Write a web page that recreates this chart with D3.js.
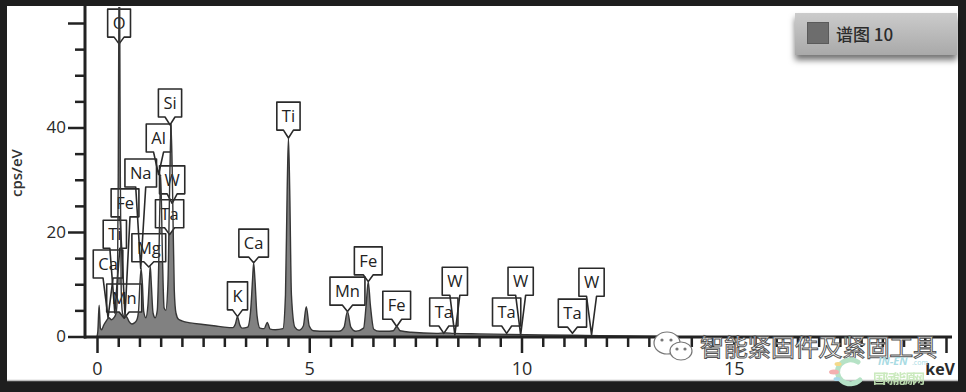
<!DOCTYPE html>
<html>
<head>
<meta charset="utf-8">
<script src="https://cdn.jsdelivr.net/npm/d3@7"></script>
<style>
  html, body { margin: 0; padding: 0; background: #1e1e1e; }
  svg { display: block; }
</style>
</head>
<body>
<div id="chart"></div>
<script>

// spectrum: energy (keV) and counts (cps/eV)
const energy = [0.00, 0.02, 0.05, 0.08, 0.11, 0.16, 0.22, 0.28, 0.34, 0.40, 0.45, 0.48, 0.50, 0.515, 0.525, 0.535, 0.55, 0.57, 0.60,
  0.64, 0.68, 0.71, 0.76, 0.82, 0.88, 0.94, 0.98, 1.01, 1.04, 1.07, 1.10, 1.15, 1.20, 1.235, 1.255, 1.28, 1.32, 1.37,
  1.42, 1.46, 1.50, 1.54, 1.58, 1.62, 1.67, 1.71, 1.745, 1.78, 1.82, 1.86, 1.92, 2.00, 2.20, 2.50, 2.80, 3.00, 3.20,
  3.26, 3.31, 3.36, 3.42, 3.55, 3.62, 3.665, 3.69, 3.72, 3.77, 3.84, 3.94, 4.01, 4.08, 4.20, 4.38, 4.44, 4.48, 4.51,
  4.54, 4.58, 4.66, 4.76, 4.86, 4.93, 5.00, 5.10, 5.40, 5.70, 5.82, 5.90, 5.98, 6.10, 6.28, 6.34, 6.39, 6.44, 6.52,
  6.65, 6.80, 6.98, 7.06, 7.14, 7.40, 8.00, 8.20, 8.40, 9.00, 9.70, 10.5, 11.5, 12.5, 13.3];
const counts = [0, 1.0, 6.0, 1.6, 1.3, 2.2, 3.0, 3.6, 3.2, 3.6, 4.5, 8, 30, 62, 75, 62, 30, 9, 4.5,
  3.8, 3.9, 3.6, 2.8, 2.4, 2.6, 3.2, 5, 10, 13, 10, 4.8, 3.6, 6, 11, 13.4, 10, 4.5, 3.6,
  5, 16, 31, 16, 5.5, 5.0, 10, 28, 40.5, 28, 9, 4.5, 3.3, 3.0, 2.6, 2.3, 2.0, 1.8, 1.7,
  2.4, 3.8, 2.3, 1.6, 1.8, 5, 11, 14.1, 11, 4, 1.6, 1.5, 2.7, 1.4, 1.3, 1.5, 8, 28, 38,
  28, 8, 1.8, 1.2, 2.0, 5.7, 2.0, 1.1, 1.0, 1.0, 1.8, 4.8, 1.8, 1.0, 1.6, 6, 10.5, 6, 1.4,
  1.0, 1.0, 1.1, 1.9, 1.1, 0.8, 0.6, 0.7, 0.6, 0.5, 0.4, 0.3, 0.2, 0.1, 0];

// peak labels: element, energy (keV), label level and pointer tip (cps/eV)
const lineNames    = ["O", "Si", "Al", "Na", "W", "Ta", "Fe", "Mg", "Ti", "Ca", "Mn", "K", "Ca", "Ti", "Mn", "Fe", "Fe", "Ta", "W", "Ta", "W", "Ta", "W"];
const lineEnergies = [0.52, 1.72, 1.45, 1.03, 1.77, 1.71, 0.66, 1.22, 0.42, 0.26, 0.64, 3.31, 3.69, 4.51, 5.90, 6.39, 7.06, 8.17, 8.43, 9.65, 9.98, 11.20, 11.65];
const lineLevels   = [57.3, 42.0, 35.3, 28.6, 27.3, 20.8, 22.9, 14.3, 16.9, 11.2, 4.7, 5.1, 15.2, 39.5, 6.0, 11.8, 3.3, 2.0, 7.9, 2.0, 7.9, 1.8, 7.7];
const lineTips     = [56, 40.5, 31, 13, 25.5, 19.5, 4, 13.3, 4.5, 3.6, 3.5, 3.8, 14.1, 38, 4.8, 10.5, 1.9, 0.6, 0.3, 0.6, 0.3, 0.6, 0.3];

const xTicks = d3.range(0, 20.01, 0.5);
const xLabels = [0, 5, 10, 15];
const yTicks = d3.range(0, 61, 5);
const yLabels = [0, 20, 40];
const legendName = "谱图 10";

const W = 966, H = 392;
const font = "'Open Sans', 'DejaVu Sans', sans-serif";
const cjk = "'Noto Sans CJK SC', sans-serif";

const svg = d3.select("#chart").append("svg")
  .attr("width", W).attr("height", H);

const defs = svg.append("defs");
defs.append("clipPath").attr("id", "plot")
  .append("rect").attr("x", 85).attr("y", 7).attr("width", 867).attr("height", 331);

const grad = defs.append("linearGradient").attr("id", "lg").attr("x1", 0).attr("x2", 0).attr("y1", 0).attr("y2", 1);
grad.append("stop").attr("offset", "0%").attr("stop-color", "#cbcbcb");
grad.append("stop").attr("offset", "100%").attr("stop-color", "#a9a9a9");
defs.append("filter").attr("id", "shadow").attr("x", "-10%").attr("y", "-20%").attr("width", "120%").attr("height", "160%")
  .append("feDropShadow").attr("dx", 0).attr("dy", 5).attr("stdDeviation", 3)
  .attr("flood-color", "#000").attr("flood-opacity", 0.55);

// frame
svg.append("rect").attr("width", W).attr("height", H).attr("fill", "#1e1e1e");
svg.append("rect").attr("x", 7).attr("y", 6).attr("width", 951).attr("height", 375).attr("fill", "#fff");
svg.append("line").attr("x1", 7).attr("x2", 958).attr("y1", 380.5).attr("y2", 380.5)
  .attr("stroke", "#bdbdbd").attr("stroke-width", 1.5);

const x = d3.scaleLinear().domain([0, 20]).range([97, 946]);
const y = d3.scaleLinear().domain([0, 60]).range([336.5, 23]);

const pts = energy.map((e, i) => [e, counts[i]]);
const plot = svg.append("g").attr("clip-path", "url(#plot)");

// spectrum fill
plot.append("path").datum(pts)
  .attr("fill", "#818181")
  .attr("d", d3.area().x(d => x(d[0])).y0(y(0)).y1(d => y(d[1])).curve(d3.curveMonotoneX));

// peak labels
const labels = lineNames.map((n, i) => ({name: n, e: lineEnergies[i], lvl: lineLevels[i], tip: lineTips[i]}));
const lab = plot.append("g");
const meas = svg.append("text").attr("font-family", font).attr("font-size", 16.5);
labels.forEach(d => {
  meas.text(d.name);
  d.w = meas.node().getComputedTextLength() + 10;
  const cx = x(d.e), b = y(d.lvl), t = b - 28, ty = Math.max(y(d.tip), b + 4);
  d.cx = cx; d.b = b;
  d.path = `M${cx - d.w / 2},${t}H${cx + d.w / 2}V${b}H${cx + 5}L${cx},${ty}L${cx - 5},${b}H${cx - d.w / 2}Z`;
});
meas.remove();

lab.selectAll("path.fill").data(labels).join("path")
  .attr("d", d => d.path).attr("fill", "#fff");
lab.selectAll("path.edge").data(labels).join("path")
  .attr("d", d => d.path).attr("fill", "none")
  .attr("stroke", "#2a2a2a").attr("stroke-width", 1.6).attr("stroke-linejoin", "round");
lab.selectAll("text").data(labels).join("text")
  .attr("x", d => d.cx).attr("y", d => d.b - 8)
  .attr("text-anchor", "middle")
  .attr("font-family", font).attr("font-size", 16.5).attr("fill", "#222")
  .text(d => d.name);

// spectrum outline
plot.append("path").datum(pts)
  .attr("fill", "none").attr("stroke", "#363636").attr("stroke-width", 1.4)
  .attr("d", d3.line().x(d => x(d[0])).y(d => y(d[1])).curve(d3.curveMonotoneX));

// axes
const gx = svg.append("g").attr("transform", "translate(0,337)")
  .call(d3.axisBottom(x).tickValues(xTicks).tickSizeOuter(0).tickSize(10)
    .tickFormat(d => xLabels.includes(d) ? d : ""));
gx.select(".domain").remove();
gx.selectAll(".tick line").attr("y2", d => d % 5 === 0 ? 16 : 10)
  .attr("stroke", "#222").attr("stroke-width", 2.5);
gx.selectAll(".tick text").attr("y", 38).attr("dy", 0)
  .attr("font-family", font).attr("font-size", 18).attr("fill", "#2a2a2a");

const gy = svg.append("g").attr("transform", "translate(85,0)")
  .call(d3.axisLeft(y).tickValues(yTicks).tickSizeOuter(0).tickSize(10)
    .tickFormat(d => yLabels.includes(d) ? d : ""));
gy.select(".domain").remove();
gy.selectAll(".tick line").attr("x2", d => d % 20 === 0 ? -17 : -10)
  .attr("stroke", "#222").attr("stroke-width", 2.5);
gy.selectAll(".tick text").attr("x", -19)
  .attr("font-family", font).attr("font-size", 17).attr("fill", "#2a2a2a");

svg.append("line").attr("x1", 85).attr("x2", 85).attr("y1", 6).attr("y2", 338.5)
  .attr("stroke", "#222").attr("stroke-width", 3);
svg.append("line").attr("x1", 84).attr("x2", 952).attr("y1", 337).attr("y2", 337)
  .attr("stroke", "#222").attr("stroke-width", 3);

svg.append("text").attr("transform", "translate(22,173) rotate(-90)")
  .attr("text-anchor", "middle").attr("font-family", font).attr("font-size", 15)
  .attr("font-weight", 600).attr("fill", "#333").text("cps/eV");
svg.append("text").attr("x", 955).attr("y", 375).attr("text-anchor", "end")
  .attr("font-family", font).attr("font-size", 16).attr("font-weight", 700)
  .attr("fill", "#2a2a2a").text("keV");

// legend
const lg = svg.append("g");
lg.append("rect").attr("x", 795).attr("y", 13).attr("width", 162).attr("height", 42)
  .attr("fill", "url(#lg)").attr("filter", "url(#shadow)");
lg.append("rect").attr("x", 807.5).attr("y", 22.5).attr("width", 21).attr("height", 21)
  .attr("fill", "#6d6d6d").attr("stroke", "#5a5a5a");
lg.append("text").attr("x", 836).attr("y", 41).attr("font-family", cjk).attr("font-size", 17)
  .attr("font-weight", 500).attr("fill", "#2b2b2b").text(legendName);

// watermark
const wm = svg.append("g");
wm.append("ellipse").attr("cx", 667).attr("cy", 343).attr("rx", 13).attr("ry", 11)
  .attr("fill", "#fff").attr("stroke", "#777").attr("stroke-width", 1.2);
wm.append("ellipse").attr("cx", 681).attr("cy", 351).attr("rx", 11).attr("ry", 9)
  .attr("fill", "#fff").attr("stroke", "#777").attr("stroke-width", 1.2);
[[662, 340], [671, 340], [677, 349], [685, 349]].forEach(p =>
  wm.append("circle").attr("cx", p[0]).attr("cy", p[1]).attr("r", 1.6).attr("fill", "#777"));
wm.append("text").attr("x", 700).attr("y", 356).attr("textLength", 237)
  .attr("font-family", cjk).attr("font-size", 24).attr("fill", "#fff")
  .attr("stroke", "#555").attr("stroke-width", 1).text("智能紧固件及紧固工具");

wm.append("path").attr("d", "M858,362 A13,12 0 1,0 860,380")
  .attr("fill", "none").attr("stroke", "#b6e2c6").attr("stroke-width", 5).attr("stroke-linecap", "round");
wm.append("ellipse").attr("cx", 834).attr("cy", 372).attr("rx", 5).attr("ry", 2.5).attr("fill", "#f3b0b0");
wm.append("ellipse").attr("cx", 838).attr("cy", 364).attr("rx", 3.5).attr("ry", 2).attr("fill", "#f4d98a");
wm.append("ellipse").attr("cx", 837).attr("cy", 379).attr("rx", 3.5).attr("ry", 2).attr("fill", "#a6d8ea");
wm.append("text").attr("x", 878).attr("y", 365).attr("font-family", font).attr("font-size", 11)
  .attr("font-weight", 700).attr("font-style", "italic").attr("fill", "#a9dbe3").text("IN-EN");
wm.append("text").attr("x", 912).attr("y", 365).attr("font-family", font).attr("font-size", 7)
  .attr("fill", "#a9dbe3").text(".com");
wm.append("text").attr("x", 873).attr("y", 383).attr("textLength", 52).attr("font-family", cjk)
  .attr("font-size", 13).attr("font-weight", 700).attr("fill", "#c6e8b8").attr("opacity", 0.9)
  .text("国际能源网");

</script>
</body>
</html>
